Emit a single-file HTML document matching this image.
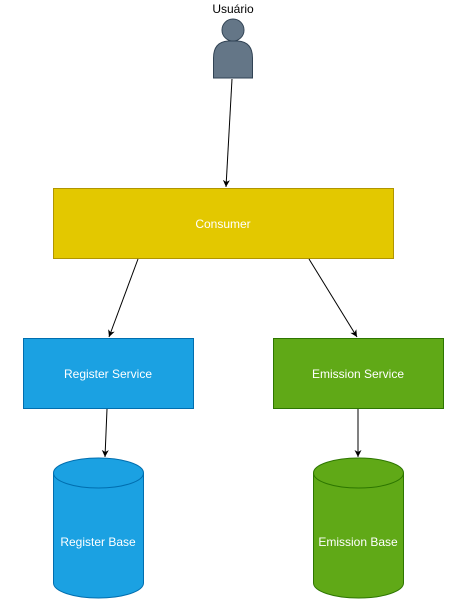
<!DOCTYPE html>
<html><head><meta charset="utf-8"><style>
html,body{margin:0;padding:0;background:#fff;width:473px;height:599px;overflow:hidden}
svg{display:block}
text{font-family:"Liberation Sans",Arial,sans-serif;font-size:12px}
</style></head><body>
<svg width="473" height="599" viewBox="0 0 473 599" xmlns="http://www.w3.org/2000/svg">
<defs><marker id="a" markerWidth="8" markerHeight="8" refX="7" refY="4" orient="auto" markerUnits="userSpaceOnUse"><path d="M0,0.5 L7,4 L0,7.5 L2,4 Z" fill="#000"/></marker></defs>
<text x="233" y="13" text-anchor="middle" fill="#000">Usuário</text>
<circle cx="233" cy="30" r="11" fill="#647687" stroke="#314354" stroke-width="1"/>
<path d="M213.5,78 L213.5,58 Q213.5,42 228,41 L238,41 Q252.5,42 252.5,58 L252.5,78 Z" fill="#647687" stroke="#314354" stroke-width="1"/>
<circle cx="233" cy="30" r="10.5" fill="#647687"/>
<line x1="232" y1="79" x2="226" y2="187" stroke="#000" marker-end="url(#a)"/>
<rect x="53.5" y="188.5" width="340" height="70" fill="#e3c800" stroke="#b09500"/>
<text x="223" y="228" text-anchor="middle" fill="#fff">Consumer</text>
<line x1="138" y1="259" x2="109" y2="337" stroke="#000" marker-end="url(#a)"/>
<line x1="309" y1="259" x2="357" y2="337" stroke="#000" marker-end="url(#a)"/>
<rect x="23.5" y="338.5" width="170" height="70" fill="#1ba1e2" stroke="#006eaf"/>
<text x="108" y="378" text-anchor="middle" fill="#fff">Register Service</text>
<rect x="273.5" y="338.5" width="170" height="70" fill="#60a917" stroke="#2d7600"/>
<text x="358" y="378" text-anchor="middle" fill="#fff">Emission Service</text>
<line x1="107" y1="409" x2="105" y2="457" stroke="#000" marker-end="url(#a)"/>
<line x1="358" y1="409" x2="358" y2="457" stroke="#000" marker-end="url(#a)"/>
<path d="M53.5,473 A45,15 0 0 1 143.5,473 L143.5,583 A45,15 0 0 1 53.5,583 Z" fill="#1ba1e2" stroke="#006eaf"/>
<path d="M53.5,473 A45,15 0 0 0 143.5,473" fill="none" stroke="#006eaf"/>
<text x="98" y="546" text-anchor="middle" fill="#fff">Register Base</text>
<path d="M313.5,473 A45,15 0 0 1 403.5,473 L403.5,583 A45,15 0 0 1 313.5,583 Z" fill="#60a917" stroke="#2d7600"/>
<path d="M313.5,473 A45,15 0 0 0 403.5,473" fill="none" stroke="#2d7600"/>
<text x="358" y="546" text-anchor="middle" fill="#fff">Emission Base</text>
</svg>
</body></html>
